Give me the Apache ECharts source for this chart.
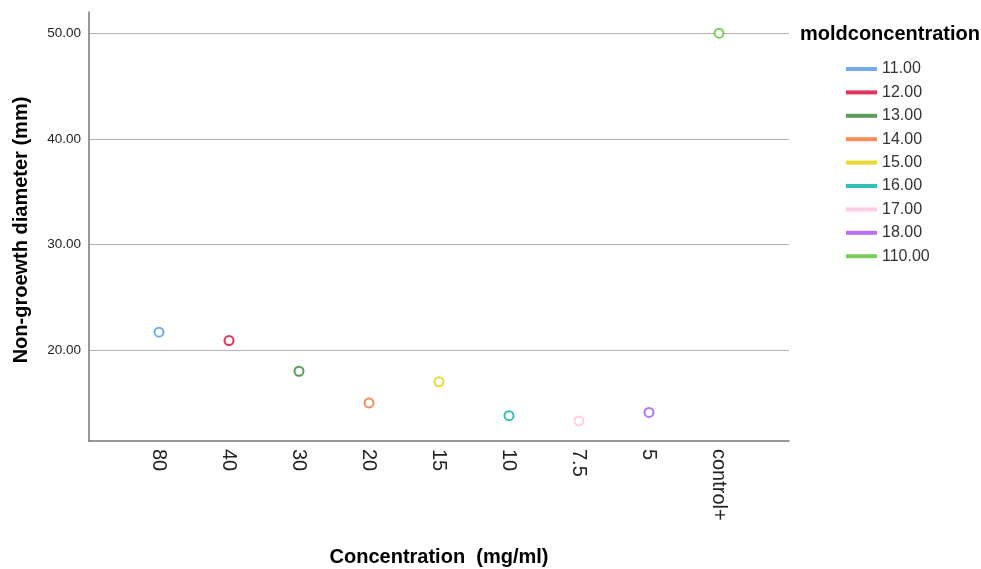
<!DOCTYPE html>
<html>
<head>
<meta charset="utf-8">
<script src="https://cdn.jsdelivr.net/npm/echarts@6/dist/echarts.min.js"></script>
<style>
  html, body { margin: 0; padding: 0; background: #fff; }
  #chart { width: 981px; height: 569px; }
</style>
</head>
<body>
<div id="chart"></div>
<script>
// categories on the x axis (blank ends give the side padding)
var categories = ['', '80', '40', '30', '20', '15', '10', '7.5', '5', 'control+', '']
var pointCats = ['80', '40', '30', '20', '15', '10', '7.5', '5', 'control+']
var diameters = [21.7, 20.9, 18.0, 15.0, 17.0, 13.8, 13.3, 14.1, 50.0]
var seriesNames = ['11.00', '12.00', '13.00', '14.00', '15.00', '16.00', '17.00', '18.00', '110.00']
var colors = ['#4f95e8', '#dc0034', '#2f852f', '#f27030', '#e2cf00', '#00b09c', '#ffbfdf', '#a64cf2', '#55c232']
var yTicks = [20, 30, 40, 50]

var font = 'Liberation Sans, Arial, sans-serif'

var serise = []
for (var i = 0; i < seriesNames.length; i++) {
  serise.push({
    name: seriesNames[i],
    type: 'scatter',
    symbol: 'emptyCircle',
    symbolSize: 9,
    itemStyle: { color: colors[i], borderWidth: 1.5 },
    data: [[pointCats[i], diameters[i]]]
  })
}

var legendData = seriesNames.map(function (n, i) {
  return { name: n, icon: 'rect', itemStyle: { color: colors[i], borderWidth: 0 } }
})

var option = {
  animation: false,
  color: colors,
  title: {
    text: 'moldconcentration',
    left: 795,
    top: 19,
    textStyle: { fontFamily: font, fontSize: 20, fontWeight: 'bold', color: '#000' }
  },
  legend: {
    orient: 'vertical',
    left: 841,
    top: 56,
    itemWidth: 31,
    itemHeight: 4,
    itemGap: 7.4,
    itemTextGap: 4,
    data: legendData,
    textStyle: { fontFamily: font, fontSize: 16, color: '#333' }
  },
  grid: { left: 89, right: 192, top: 12, bottom: 128 },
  xAxis: {
    type: 'category',
    data: categories,
    boundaryGap: false,
    axisLine: { lineStyle: { color: '#777', width: 1.5 } },
    axisTick: { show: false },
    axisLabel: { interval: 0, rotate: -90, margin: 8, fontFamily: font, fontSize: 20, color: '#222' },
    splitLine: { show: false }
  },
  yAxis: {
    type: 'value',
    min: 11.4,
    max: 52,
    axisLine: { show: true, lineStyle: { color: '#777', width: 1.5 } },
    axisTick: { show: false, customValues: yTicks },
    axisLabel: { customValues: yTicks, margin: 8, fontFamily: font, fontSize: 13.5, color: '#222',
      formatter: function (v) { return v.toFixed(2) } },
    splitLine: { show: true, lineStyle: { color: '#b4b4b4', width: 1 } }
  },
  graphic: [
    {
      type: 'text',
      x: 21,
      y: 230,
      rotation: Math.PI / 2,
      style: { text: 'Non-groewth diameter (mm)', font: 'bold 20px ' + font, fill: '#000', align: 'center', verticalAlign: 'middle' }
    },
    {
      type: 'text',
      x: 439,
      y: 557,
      style: { text: 'Concentration  (mg/ml)', font: 'bold 20px ' + font, fill: '#000', align: 'center', verticalAlign: 'middle' }
    }
  ],
  series: serise
}

var myChart = echarts.init(document.getElementById('chart'))
myChart.setOption(option)
</script>
</body>
</html>
